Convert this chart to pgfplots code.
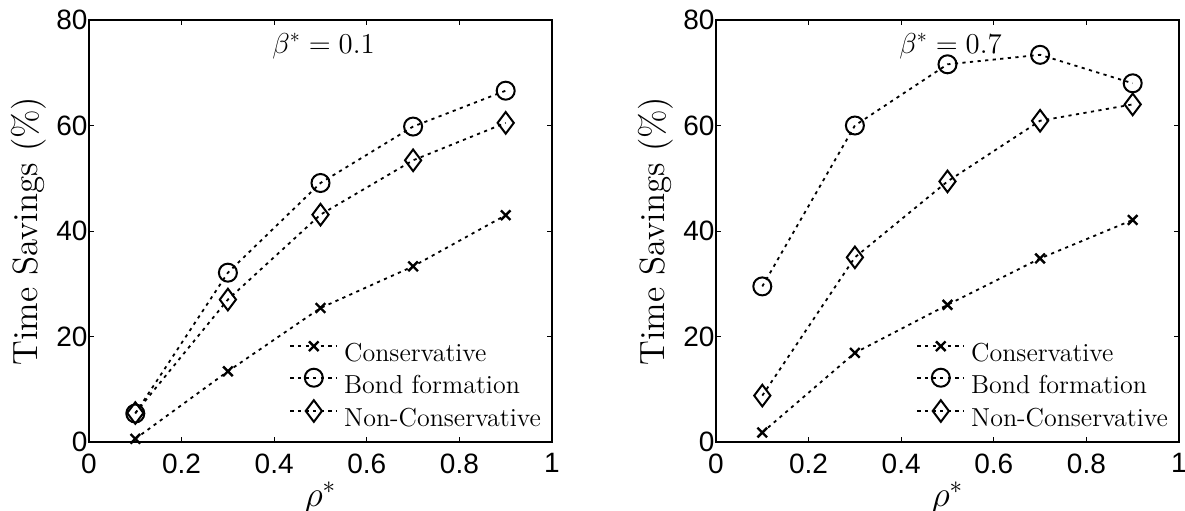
\documentclass[border=0pt]{standalone}
\usepackage{fontspec}
\usepackage{graphicx}
\usepackage{pgfplots}
\pgfplotsset{compat=1.18}
\newfontfamily\tickfont{Liberation Sans}
% axis titles: 14pt type enlarged to 17.5pt
\newcommand\biglabel[1]{\scalebox{1.25}{\fontsize{14}{14}\selectfont #1}}

\pgfplotsset{
  savings/.style={
    scale only axis,
    width=231.5pt, height=211pt,
    xmin=0, xmax=1, ymin=0, ymax=80,
    xtick={0,0.2,0.4,0.6,0.8,1},
    ytick={0,20,40,60,80},
    tick align=inside,
    major tick length=2.3pt,
    tick style={black, line width=0.5pt},
    axis line style={line width=0.6pt},
    /pgf/number format/assume math mode=true,
    tick label style={font=\tickfont\fontsize{14}{14}\selectfont},
    xticklabel style={yshift=-2.2pt},
    yticklabel style={xshift=2.8pt},
    xlabel={\biglabel{$\rho^{*}$}},
    ylabel={\biglabel{Time Savings (\%)}},
    xlabel style={at={(axis description cs:0.5,-0.152)}, anchor=base},
    ylabel style={at={(axis description cs:-0.111,0.5)}, anchor=base},
    clip=false,
    cycle list={{black}},
    legend cell align=left,
    legend style={
      draw=none, fill=none, inner sep=0pt,
      at={(axis description cs:0.432,0.2393)}, anchor=north west,
      font=\fontsize{13}{13}\selectfont,
      row sep=0pt, column sep=0pt,
      nodes={inner xsep=3pt, inner ysep=0pt, text height=10pt, text depth=3.5pt},
    },
    legend image code/.code={
      \draw[mark repeat=2, mark phase=2, #1]
        plot coordinates {(0pt,4.5pt) (11.75pt,4.5pt) (23.5pt,4.5pt)};
    },
  },
  series/.style={
    black, line width=0.9pt, dash pattern=on 1.6pt off 2.2pt,
  },
  cons/.style={series, mark=x, mark size=3.4pt,
    mark options={solid, black, line width=1.2pt}},
  bond/.style={series, mark=o, mark size=4.5pt,
    mark options={solid, black, line width=1pt}},
  noncons/.style={series, mark=diamond, mark size=5.4pt,
    mark options={solid, black, line width=1pt}},
}

\begin{document}
\begin{tikzpicture}

% beta* = 0.1
\begin{axis}[savings, at={(44.5pt,34pt)}, anchor=south west]
  \addplot[cons] coordinates {(0.1,0.6) (0.3,13.4) (0.5,25.4) (0.7,33.3) (0.9,43.0)};
  \addplot[bond] coordinates {(0.1,5.4) (0.3,32.1) (0.5,49.1) (0.7,59.8) (0.9,66.6)};
  \addplot[noncons] coordinates {(0.1,5.5) (0.3,27.0) (0.5,43.1) (0.7,53.4) (0.9,60.5)};
  \legend{Conservative, Bond formation, Non-Conservative}
  \node[anchor=base west, inner sep=0pt, font=\fontsize{14.5}{14.5}\selectfont]
    at (axis cs:0.395,73.7) {$\beta^{*} = 0.1$};
\end{axis}

% beta* = 0.7
\begin{axis}[savings, at={(358pt,34pt)}, anchor=south west]
  \addplot[cons] coordinates {(0.1,1.8) (0.3,16.9) (0.5,26.0) (0.7,34.8) (0.9,42.1)};
  \addplot[bond] coordinates {(0.1,29.5) (0.3,60.0) (0.5,71.6) (0.7,73.4) (0.9,68.0)};
  \addplot[noncons] coordinates {(0.1,8.8) (0.3,35.0) (0.5,49.4) (0.7,60.9) (0.9,64.0)};
  \legend{Conservative, Bond formation, Non-Conservative}
  \node[anchor=base west, inner sep=0pt, font=\fontsize{14.5}{14.5}\selectfont]
    at (axis cs:0.395,73.7) {$\beta^{*} = 0.7$};
\end{axis}

\pgfresetboundingbox
\path[use as bounding box] (0pt,0pt) rectangle (592.5pt,255pt);
\end{tikzpicture}
\end{document}
